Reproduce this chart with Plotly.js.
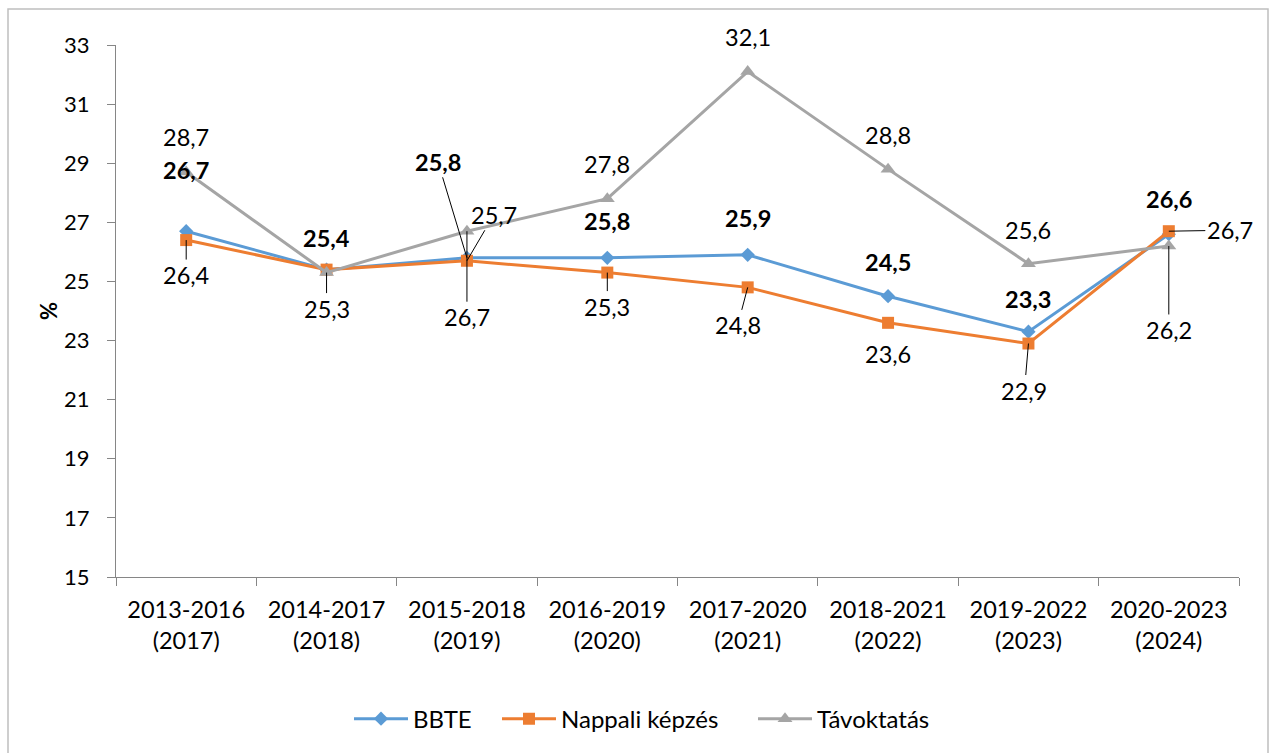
<!DOCTYPE html>
<html>
<head>
<meta charset="utf-8">
<script src="https://cdn.plot.ly/plotly-3.0.1.min.js"></script>
<style>html,body{margin:0;padding:0;background:#fff;}#chart{width:1270px;height:753px;}</style>
</head>
<body>
<div id="chart"></div>
<script>
const categories = ["2013-2016<br>(2017)","2014-2017<br>(2018)","2015-2018<br>(2019)","2016-2019<br>(2020)","2017-2020<br>(2021)","2018-2021<br>(2022)","2019-2022<br>(2023)","2020-2023<br>(2024)"];
const bbte = [26.7, 25.4, 25.8, 25.8, 25.9, 24.5, 23.3, 26.6];
const nappali = [26.4, 25.4, 25.7, 25.3, 24.8, 23.6, 22.9, 26.7];
const tavoktatas = [28.7, 25.3, 26.7, 27.8, 32.1, 28.8, 25.6, 26.2];
const seriesNames = ["BBTE", "Nappali képzés", "Távoktatás"];
const yTicks = [15, 17, 19, 21, 23, 25, 27, 29, 31, 33];

// label placement: [ax, ay, leader] (pixel offsets; null = no label)
const bbteLabelPos = [[0,-61,false],[0,-32,false],[-29,-96,true],[0,-37,false],[0,-37,false],[0,-34,false],[0,-33,false],[0,-35,false]];
const nappaliLabelPos = [[0,35,true],null,[27,-46,true],[0,34,true],[-10,38,true],[0,31,false],[-4,47,true],[61,-1,true]];
const tavLabelPos = [[0,-35,false],[0,36,true],[0,86,true],[0,-35,false],[0,-35,false],[0,-34,false],[0,-34,false],[0,84,true]];

const FONT = "Lato, 'Open Sans', sans-serif";
const LABEL_SIZE = 23.5;
const fmt = v => v.toFixed(1).replace('.', ',');

const PLOT_L = 116, PLOT_W = 1270 - 116 - 31, PLOT_T = 45, PLOT_H = 753 - 45 - 176;
const px2x = p => (p - PLOT_L) / PLOT_W;

const traces = [
  {x: categories, y: bbte, name: seriesNames[0], type: 'scatter', mode: 'lines+markers', legend: 'legend',
   line: {color: '#5B9BD5', width: 3}, marker: {symbol: 'diamond', size: 11, color: '#5B9BD5'}},
  {x: categories, y: nappali, name: seriesNames[1], type: 'scatter', mode: 'lines+markers', legend: 'legend2',
   line: {color: '#ED7D31', width: 3}, marker: {symbol: 'square', size: 12, color: '#ED7D31'}},
  {x: categories, y: tavoktatas, name: seriesNames[2], type: 'scatter', mode: 'lines+markers', legend: 'legend3',
   line: {color: '#A5A5A5', width: 3}, marker: {symbol: 'triangle-up', size: 13, color: '#A5A5A5'}}
];

const annotations = [];
function addLabels(vals, pos, bold) {
  vals.forEach((v, i) => {
    const p = pos[i];
    if (!p) return;
    const txt = bold ? '<b>' + fmt(v) + '</b>' : fmt(v);
    if (p[2]) {
      annotations.push({x: categories[i], y: v, xref: 'x', yref: 'y', text: txt,
        showarrow: true, ax: p[0], ay: p[1], arrowhead: 0, arrowwidth: 1, arrowcolor: '#000', standoff: 0,
        font: {family: FONT, size: LABEL_SIZE, color: '#000'}});
    } else {
      annotations.push({x: categories[i], y: v, xref: 'x', yref: 'y', text: txt,
        showarrow: false, xshift: p[0], yshift: -p[1],
        font: {family: FONT, size: LABEL_SIZE, color: '#000'}});
    }
  });
}
addLabels(bbte, bbteLabelPos, true);
addLabels(nappali, nappaliLabelPos, false);
addLabels(tavoktatas, tavLabelPos, false);

function legendAt(px) {
  return {orientation: 'h', x: px2x(px), xanchor: 'left', y: -0.267, yanchor: 'middle',
    font: {family: FONT, size: 24, color: '#000'}, itemwidth: 54, bgcolor: 'rgba(0,0,0,0)'};
}

const layout = {
  width: 1270, height: 753,
  margin: {l: PLOT_L, r: 31, t: PLOT_T, b: 176},
  paper_bgcolor: '#fff', plot_bgcolor: '#fff',
  font: {family: FONT, size: 22, color: '#000'},
  showlegend: true,
  legend: legendAt(349),
  legend2: legendAt(497),
  legend3: legendAt(753),
  xaxis: {type: 'category', range: [-0.5, categories.length - 0.5], autorange: false,
    tickson: 'boundaries', ticks: 'outside', ticklen: 8, tickcolor: '#868686',
    showline: true, linecolor: '#868686', linewidth: 1, showgrid: false, zeroline: false, automargin: false,
    ticklabelstandoff: 12,
    tickfont: {family: FONT, size: 23.5, color: '#000'}, fixedrange: true},
  yaxis: {range: [15, 33], autorange: false, tickvals: yTicks, ticktext: yTicks.map(String), ticks: 'outside', ticklen: 8,
    tickcolor: '#868686', showline: true, linecolor: '#868686', linewidth: 1, showgrid: false, zeroline: false,
    automargin: false, ticklabelstandoff: 13,
    tickfont: {family: FONT, size: 22, color: '#000'},
    title: {text: '<b>%</b>', font: {family: FONT, size: 22, color: '#000'}, standoff: 0}},
  annotations: annotations,
  shapes: [{type: 'rect', xref: 'paper', yref: 'paper',
    x0: px2x(8), x1: px2x(1268), y0: -0.5, y1: (577 - 9) / PLOT_H,
    line: {color: '#BFBFBF', width: 1.5}, fillcolor: 'rgba(0,0,0,0)', layer: 'below'}]
};

Plotly.newPlot('chart', traces, layout, {displayModeBar: false, staticPlot: true});
</script>
</body>
</html>
